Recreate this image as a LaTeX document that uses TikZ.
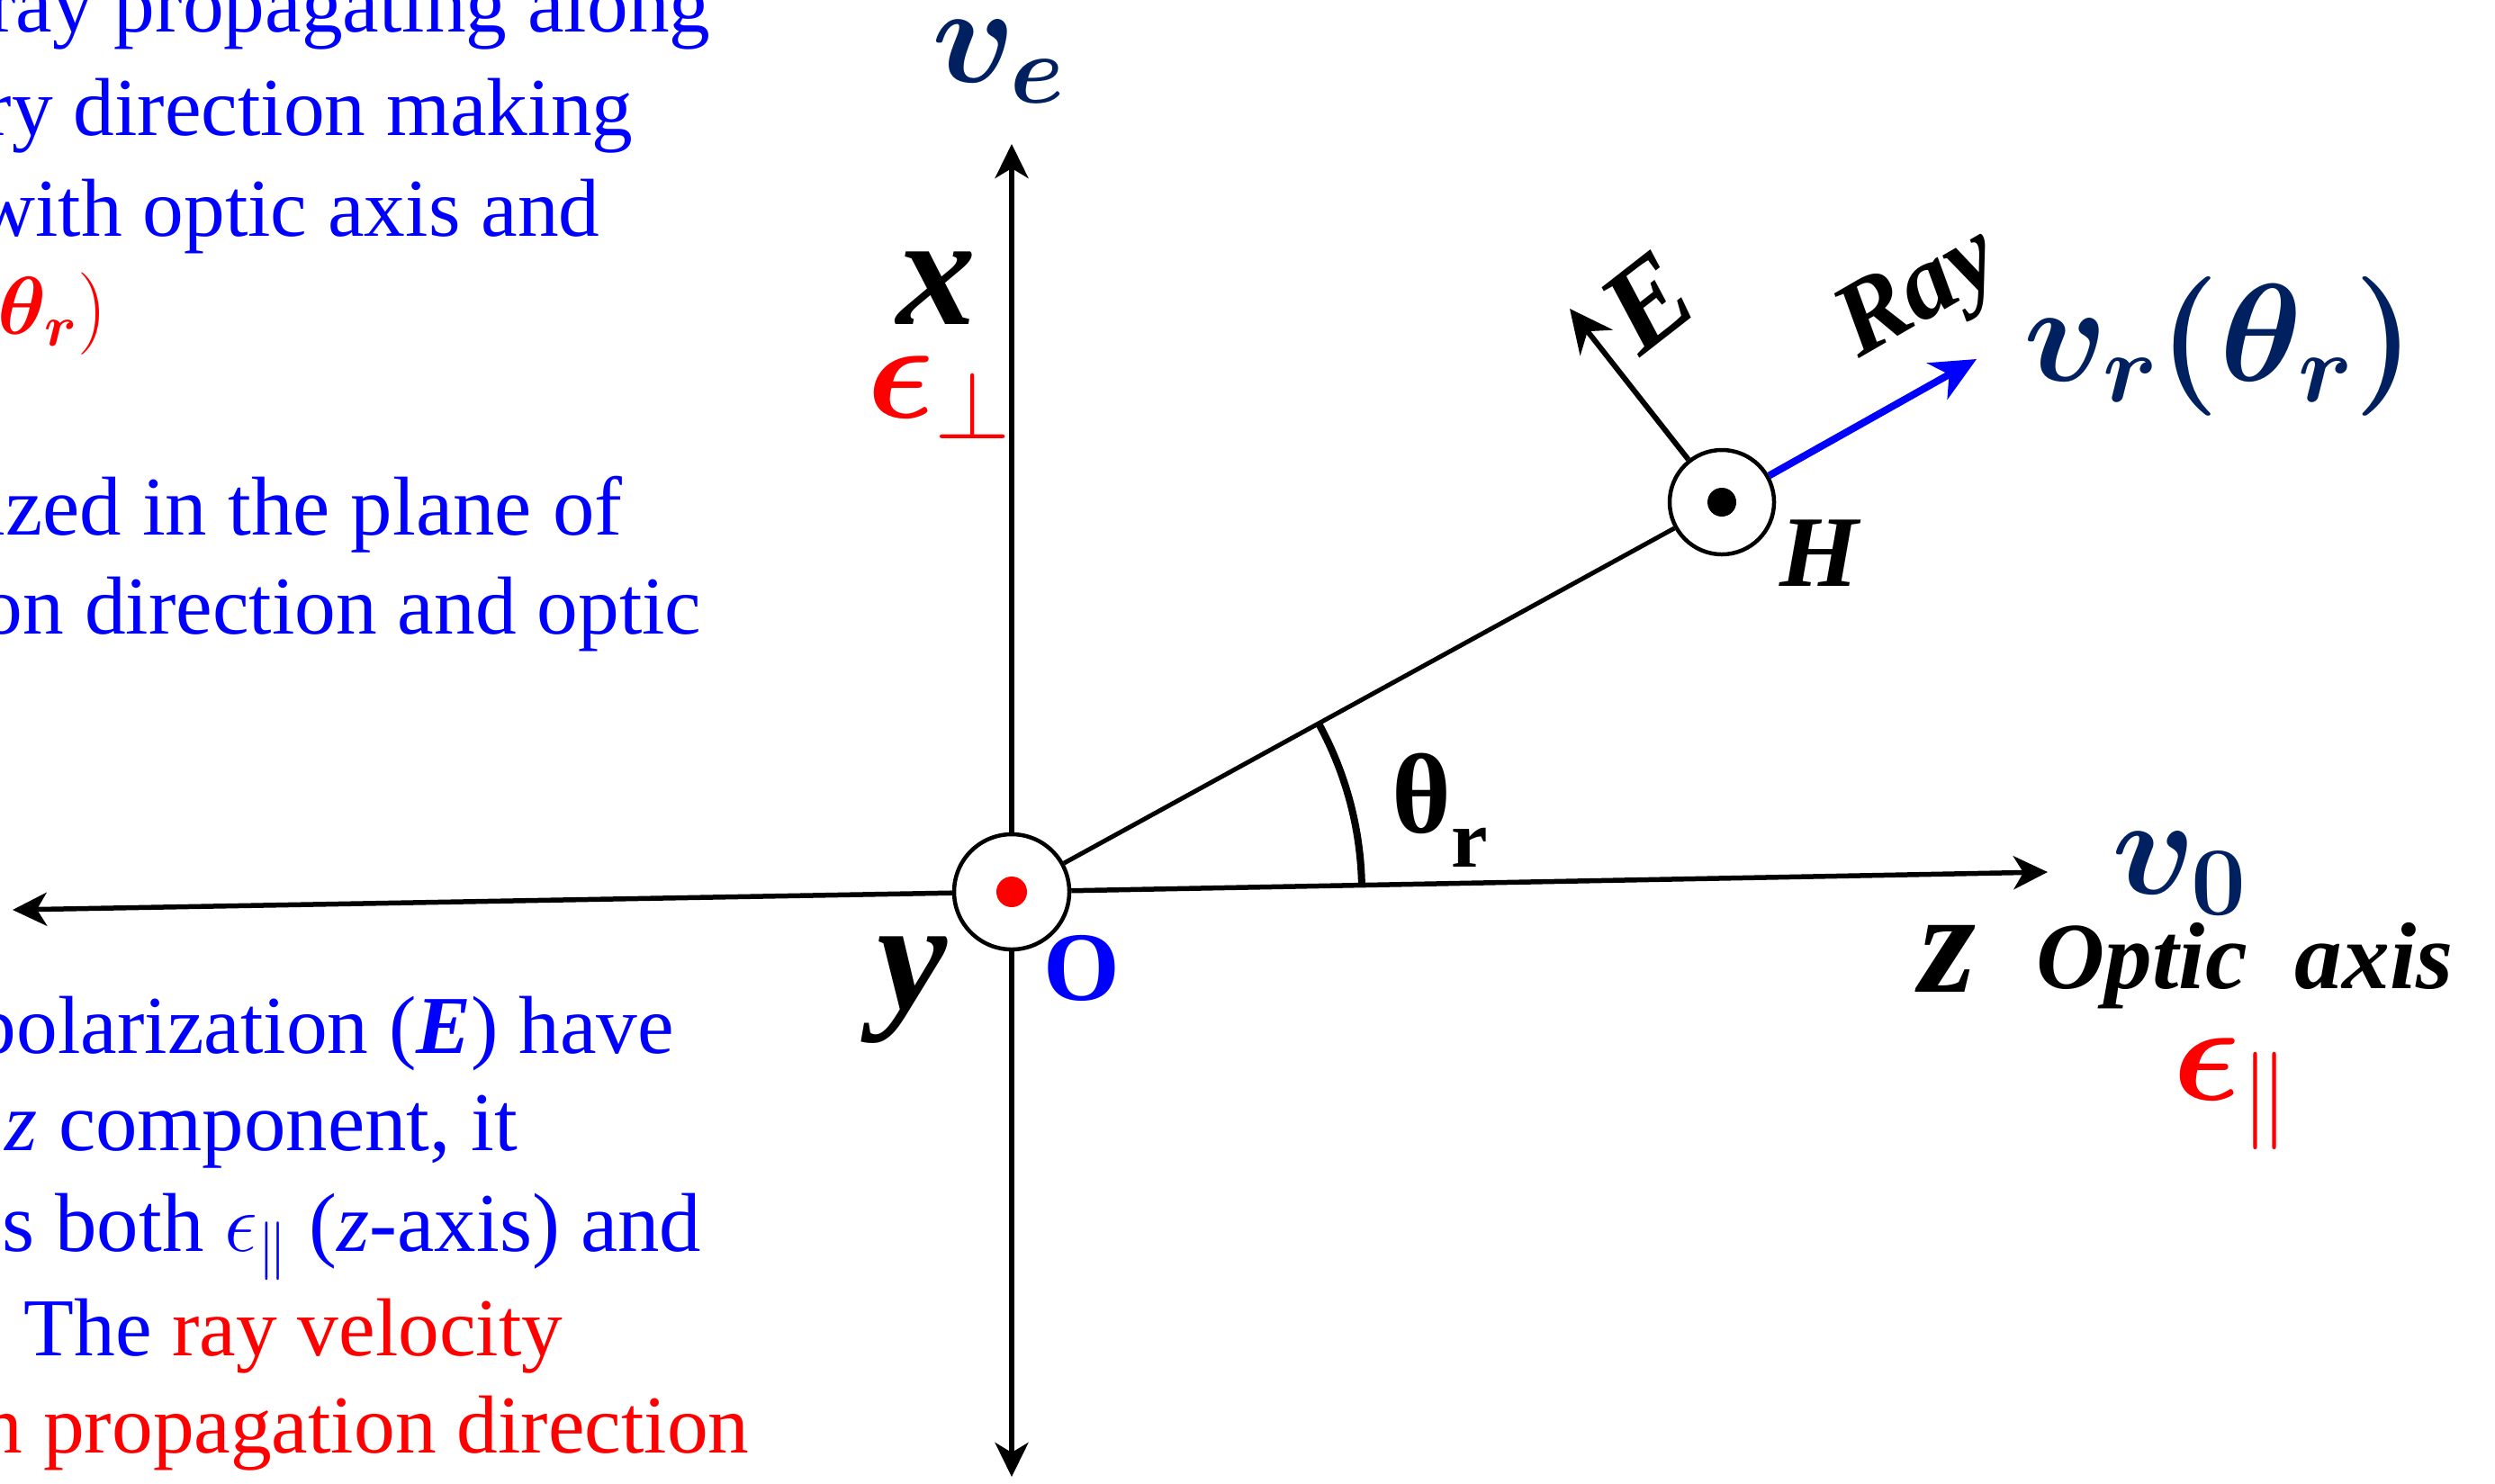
\documentclass[tikz,border=0pt]{standalone}
\usepackage{fix-cm}
\usepackage[no-math]{fontspec}
\setmainfont{Liberation Serif}
\usepackage{bm}
\usetikzlibrary{arrows.meta}
\definecolor{navy}{HTML}{002060}
\tikzset{
  axisline/.style={line width=0.055cm, -{Stealth[length=0.38cm,width=0.37cm,inset=0.11cm]}},
  rayline/.style={line width=0.05cm},
  anglearc/.style={line width=0.08cm},
  bluearrow/.style={draw=blue, line width=0.08cm, -{Stealth[length=0.5cm,width=0.46cm,inset=0.15cm]}},
  earrow/.style={line width=0.06cm, -{Stealth[length=0.48cm,width=0.46cm,inset=0.16cm]}},
  ring/.style={circle, draw, line width=0.045cm, fill=white, inner sep=0},
  dotnode/.style={circle, inner sep=0},
  lefttext/.style={anchor=base east, inner sep=0, text=blue, font=\fontsize{26}{31}\selectfont},
  widetext/.style={lefttext, font=\fontsize{26.4}{31}\selectfont},
  mathlbl/.style={inner sep=0, font=\fontsize{44}{44}\selectfont},
  bilbl/.style={inner sep=0, font=\bfseries\itshape},
}
\begin{document}
\begin{tikzpicture}
\useasboundingbox (0,0) rectangle (27.72,-16.48);
\clip (0,0) rectangle (27.72,-16.48);

% left text block
\node[lefttext] (t1) at (7.90,-0.35) {ray propagating along};
\node[lefttext] (t2) at (7.04,-1.50) {ry direction making};
\node[lefttext] (t3) at (6.67,-2.62) {with optic axis and};
\node[lefttext, text=red] (t4) at (1.20,-3.71) {$\bm{\theta_r})$};
\node[widetext] (t5) at (6.92,-5.94) {ized in the plane of};
\node[lefttext] (t6) at (7.80,-7.04) {on direction and optic};
\node[lefttext] (t7) at (7.50,-11.70) {polarization (\textbf{\textit{E}}) have};
\node[widetext] (t8) at (5.76,-12.78) {\textit{z} component, it};
\node[widetext] (t9) at (7.80,-13.90) {s both $\epsilon_{\parallel}$ (\textit{z}-axis) and};
\node[lefttext] (t10) at (6.26,-15.06) {The \textcolor{red}{ray velocity}};
\node[lefttext, text=red] (t11) at (8.33,-16.14) {n propagation direction};

% axes
\coordinate (xtop) at (11.24,-1.60);
\coordinate (xbot) at (11.24,-16.41);
\coordinate (zleft) at (0.14,-10.11);
\coordinate (zright) at (22.75,-9.69);
\coordinate (Etip) at (17.44,-3.43);
\coordinate (raytip) at (21.96,-3.99);

\node[ring, minimum size=1.28cm] (O) at (11.24,-9.91) {};
\node[ring, minimum size=1.16cm] (H) at (19.13,-5.58) {};

\draw[axisline] (O) -- (xtop);
\draw[axisline] (O) -- (xbot);
\draw[axisline] (O) -- (zleft);
\draw[axisline] (O) -- (zright);
\draw[rayline] (O) -- (H);
\draw[anglearc] ([shift={(1.05:3.89)}]O.center) arc[start angle=1.05, end angle=28.7, radius=3.89];
\draw[bluearrow] (H) -- (raytip);
\draw[earrow] (H) -- (Etip);

\node[dotnode, fill=red, minimum size=0.34cm] (Odot) at (O.center) {};
\node[dotnode, fill=black, minimum size=0.32cm] (Hdot) at (H.center) {};

% labels
\node[mathlbl, text=navy] (ve) at (11.10,-0.69) {$\bm{v_e}$};
\node[bilbl, font=\fontsize{50}{50}\selectfont\bfseries\itshape] (xl) at (10.40,-3.20) {x};
\node[mathlbl, text=red] (eperp) at (10.44,-4.42) {$\bm{\epsilon}_{\perp}$};
\node[bilbl, font=\fontsize{50}{50}\selectfont\bfseries\itshape] (yl) at (10.13,-11.00) {y};
\node[inner sep=0, text=blue, font=\fontsize{31}{31}\selectfont\bfseries] (Ol) at (12.02,-10.76) {O};
\node[inner sep=0, font=\fontsize{36}{36}\selectfont\bfseries] (thl) at (16.00,-9.00) {θ\raisebox{-0.3em}{\fontsize{26}{26}\selectfont r}};
\node[mathlbl, text=navy] (v0) at (24.22,-9.71) {$\bm{v_0}$};
\node[bilbl, font=\fontsize{46}{46}\selectfont\bfseries\itshape] (zl) at (21.64,-10.65) {z};
\node[anchor=base, inner sep=0, font=\fontsize{30}{30}\selectfont\bfseries\itshape] (oa) at (24.94,-10.98) {Optic\ \ axis};
\node[mathlbl, text=red] (epar) at (24.80,-12.16) {$\bm{\epsilon}_{\parallel}$};
\node[bilbl, rotate=38, font=\fontsize{38}{38}\selectfont\bfseries\itshape] (El) at (18.31,-3.36) {E};
\node[bilbl, rotate=30, font=\fontsize{33}{33}\selectfont\bfseries\itshape] (rayl) at (21.34,-3.30) {Ray};
\node[bilbl, font=\fontsize{32}{32}\selectfont\bfseries\itshape] (Hl) at (20.21,-6.15) {H};
\node[mathlbl, text=navy] (vr) at (24.66,-3.85) {$\bm{v_r(\theta_r)}$};
\end{tikzpicture}
\end{document}
